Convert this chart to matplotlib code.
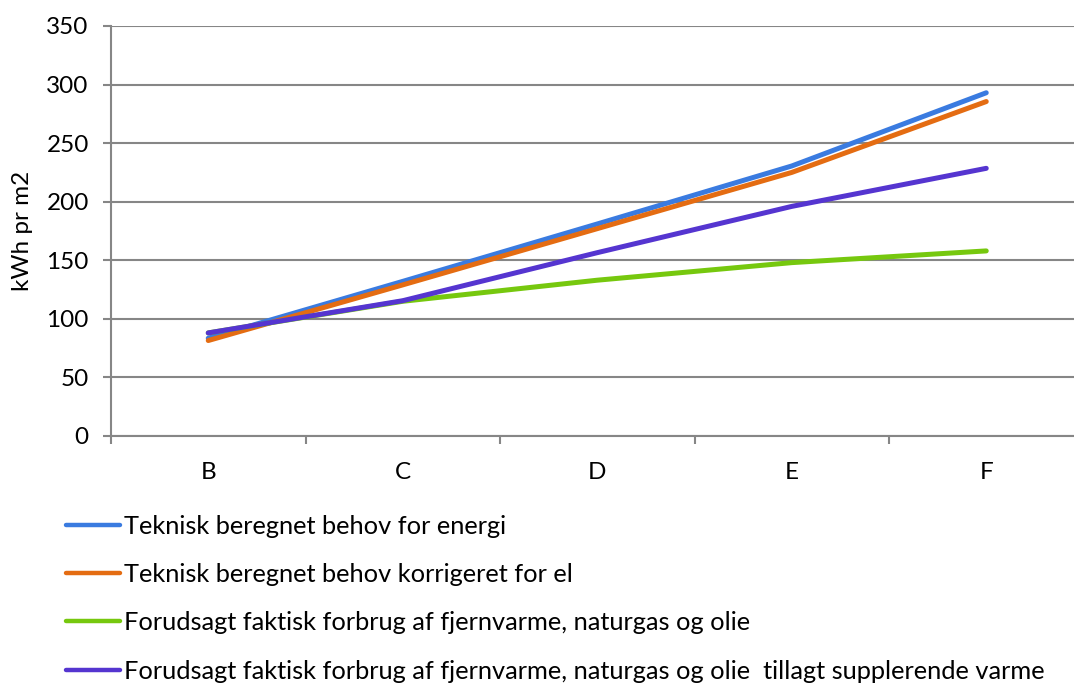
import matplotlib
matplotlib.use("Agg")
import matplotlib.pyplot as plt
from matplotlib.ticker import FixedLocator

plt.rcParams['font.family'] = ['Lato', 'DejaVu Sans']

categories = ["B", "C", "D", "E", "F"]
teknisk_energi = [83.5, 132, 181, 230.5, 293]
teknisk_korr_el = [81.5, 129, 177, 225, 285.5]
forudsagt = [88, 115, 133, 148, 158]
forudsagt_suppl = [88, 115.5, 156.5, 196, 228.5]

series_labels = [
    "Teknisk beregnet behov for energi",
    "Teknisk beregnet behov korrigeret for el",
    "Forudsagt faktisk forbrug af fjernvarme, naturgas og olie",
    "Forudsagt faktisk forbrug af fjernvarme, naturgas og olie  tillagt supplerende varme",
]
series_colors = ["#3A7BE0", "#E46C12", "#76C80E", "#5535D0"]
y_ticks = [0, 50, 100, 150, 200, 250, 300, 350]

W, H = 1074, 683
fig = plt.figure(figsize=(W / 100, H / 100), dpi=100)
ax = fig.add_axes([111 / W, (H - 436) / H, 972.5 / W, 410 / H])

x = list(range(len(categories)))
series = [teknisk_energi, teknisk_korr_el, forudsagt, forudsagt_suppl]
lines = []
for vals, lab, col in zip(series, series_labels, series_colors):
    ln, = ax.plot(x, vals, color=col, lw=3.6, solid_capstyle='round',
                  solid_joinstyle='round', label=lab)
    lines.append(ln)

ax.set_xlim(-0.5, len(categories) - 0.5)
ax.set_ylim(0, 350)
ax.set_yticks(y_ticks)
ax.set_xticks(x)
ax.set_xticklabels(categories)
ax.xaxis.set_minor_locator(FixedLocator([i - 0.5 for i in range(len(categories) + 1)]))

gray = "#868686"
ax.grid(axis='y', color=gray, lw=1.5)
ax.set_axisbelow(True)
for s in ['top', 'right']:
    ax.spines[s].set_visible(False)
for s in ['left', 'bottom']:
    ax.spines[s].set_color(gray)
    ax.spines[s].set_linewidth(1.5)

fs = 17.5
ax.tick_params(axis='y', which='major', length=6, width=1.5, color=gray,
               labelsize=fs, pad=10, labelcolor='black')
ax.tick_params(axis='x', which='major', length=0, labelsize=fs, pad=19)
ax.tick_params(axis='x', which='minor', length=6, width=1.5, color=gray)

ax.set_ylabel("kWh pr m2", fontsize=fs, labelpad=10)

leg_fs = 18.3
leg = ax.legend(handles=lines, loc='upper left',
                bbox_to_anchor=(66 / W, (H - 514.5) / H),
                bbox_transform=fig.transFigure, frameon=False,
                fontsize=leg_fs, handlelength=2.12, handletextpad=0.15,
                labelspacing=1.0, borderpad=0, borderaxespad=0)
for lh in leg.get_lines():
    lh.set_linewidth(3.2)

fig.savefig("out.png", dpi=100)
